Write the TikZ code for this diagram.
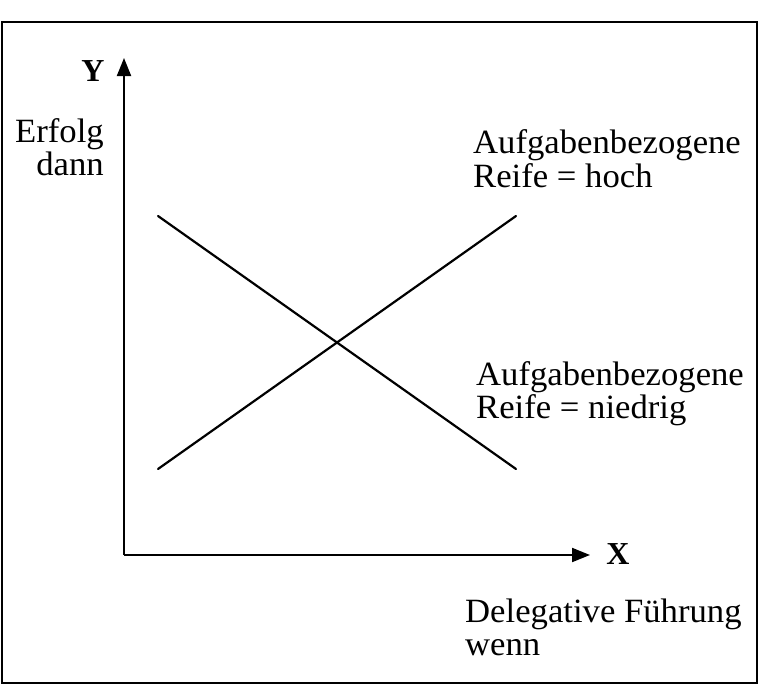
\documentclass[tikz,border=0pt]{standalone}
\usepackage{fontspec}
\setmainfont{Liberation Serif}
\newfontfamily\labfont[FakeStretch=1.02]{Liberation Serif}
\usetikzlibrary{arrows.meta}
\begin{document}
\begin{tikzpicture}[x=1pt,y=-1pt,
  lbl/.style={inner sep=0pt,anchor=base west,font=\labfont\fontsize{34}{35}\selectfont},
  lblr/.style={inner sep=0pt,anchor=base east,font=\labfont\fontsize{34}{35}\selectfont},
  axlbl/.style={inner sep=0pt,anchor=base,font=\fontsize{32}{34}\selectfont\bfseries},
  axis/.style={line width=2pt,-{Triangle[length=18pt,width=14pt]}},
  trend/.style={line width=2.2pt,line cap=round}]
\useasboundingbox (0,0) rectangle (764,688);
\draw[line width=2pt] (2,22) rectangle (757,683);
\coordinate (o) at (124,555);
\coordinate (ytip) at (124,58);
\coordinate (xtip) at (590,555);
\draw[axis] (o) -- (ytip);
\draw[axis] (o) -- (xtip);
\node[axlbl] (ylab) at (93,81) {Y};
\node[axlbl] (xlab) at (618,564) {X};
\node[lblr] (erf1) at (104,142) {Erfolg};
\node[lblr] (erf2) at (104,175) {dann};
\coordinate (a1) at (158,216);
\coordinate (a2) at (516,469);
\coordinate (b1) at (158,469);
\coordinate (b2) at (516,216);
\draw[trend] (a1) -- (a2);
\draw[trend] (b1) -- (b2);
\node[lbl] (h1) at (473,153) {Aufgabenbezogene};
\node[lbl] (h2) at (473,187) {Reife = hoch};
\node[lbl] (n1) at (476,385) {Aufgabenbezogene};
\node[lbl] (n2) at (476,418) {Reife = niedrig};
\node[lbl] (d1) at (465,622) {Delegative Führung};
\node[lbl] (d2) at (465,655) {wenn};
\end{tikzpicture}
\end{document}
